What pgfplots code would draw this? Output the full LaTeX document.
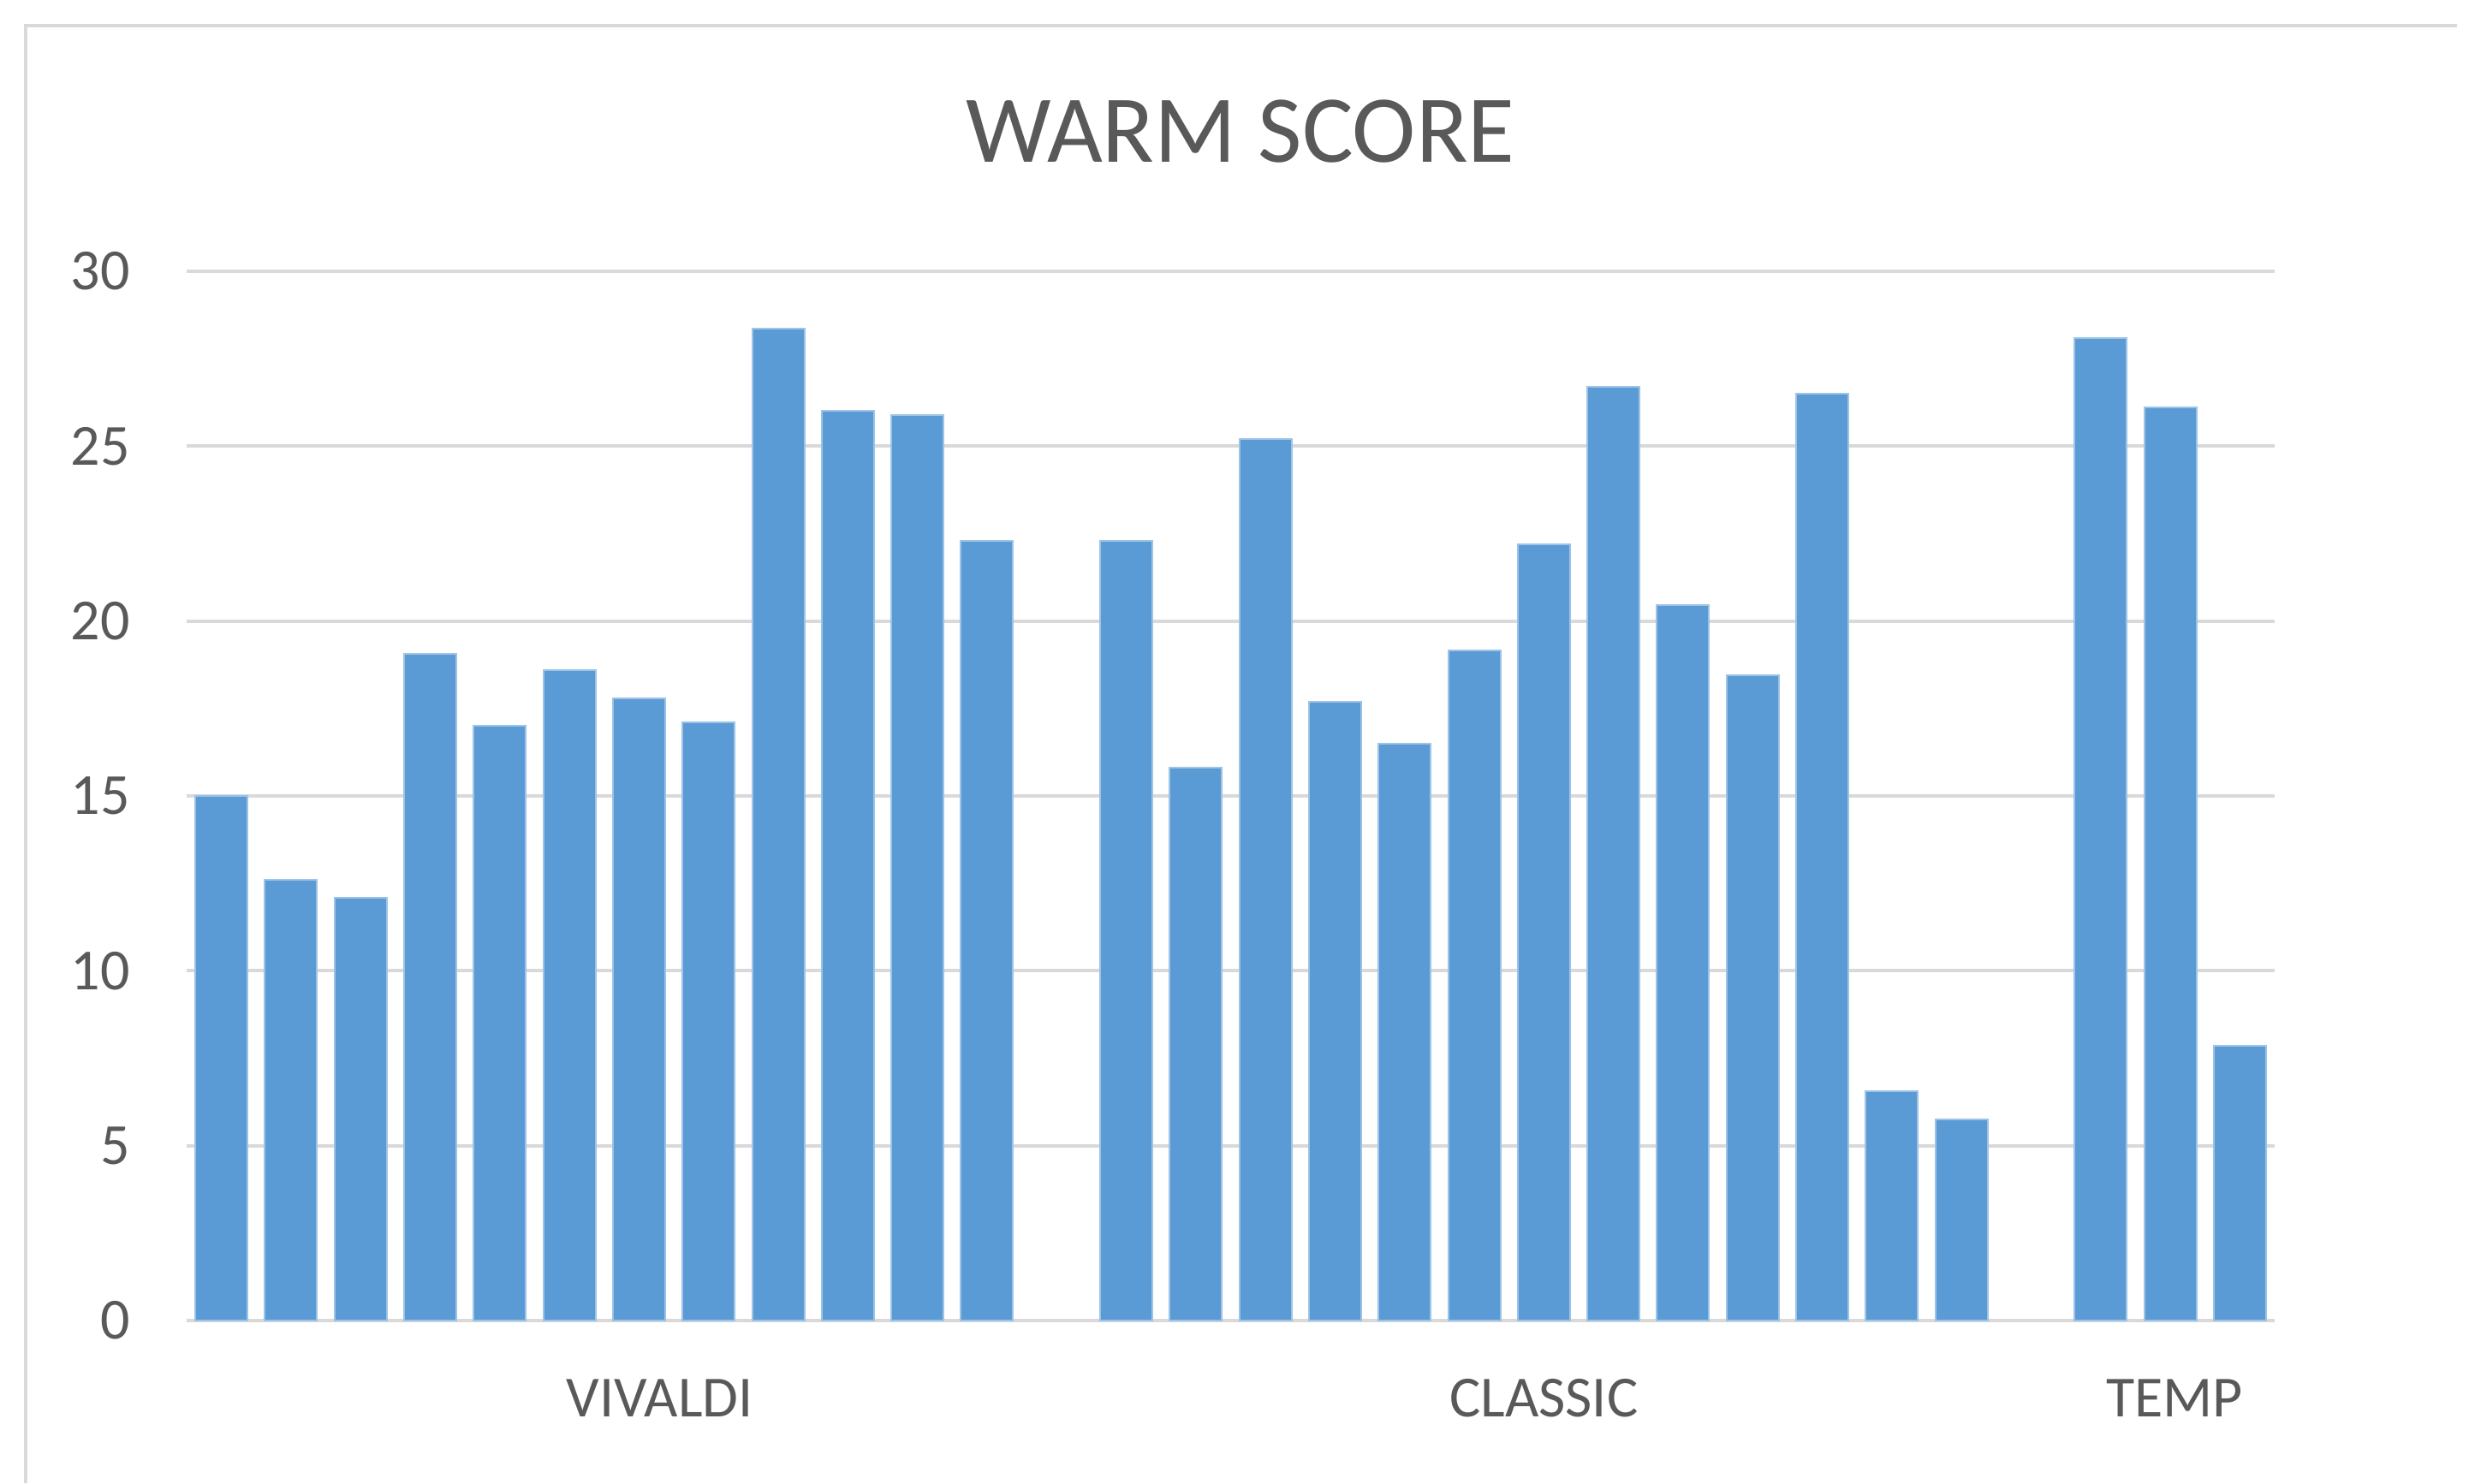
\documentclass[border=0pt]{standalone}
\usepackage{fontspec}
\setmainfont{Carlito}
\usepackage{pgfplots}
\pgfplotsset{compat=1.18}
\definecolor{BarBlue}  {RGB}{ 91,155,213}
\definecolor{BarEdge}  {RGB}{157,195,230}
\definecolor{GridGray} {RGB}{217,217,217}
\definecolor{TextGray} {RGB}{ 89, 89, 89}
\definecolor{FrameGray}{RGB}{217,217,217}

\begin{document}
\begin{tikzpicture}
\path[use as bounding box] (0pt,0pt) rectangle (724.5pt,433.25pt);
% chart frame (only top and left edges show in the crop)
\draw[FrameGray, line width=1pt] (7.5pt,0pt) -- (7.5pt,425.75pt) -- (717.5pt,425.75pt);

\node[anchor=base, text=TextGray, font=\fontsize{28}{34}\selectfont]
    at (362.25pt,385.75pt) {WARM SCORE};

\begin{axis}[
    at={(54.5pt,47.5pt)},
    anchor=south west,
    scale only axis,
    width=609.75pt,
    height=306.5pt,
    ybar,
    bar width=0.75,
    bar shift=0pt,
    xmin=-0.5, xmax=29.5,
    ymin=0, ymax=30,
    ytick={0,5,10,15,20,25,30},
    xtick={6.3,19,28.06},
    xticklabels={VIVALDI,CLASSIC,TEMP},
    major tick length=0pt,
    axis line style={draw=none},
    ymajorgrids,
    major grid style={draw=GridGray, line width=1pt},
    tick label style={text=TextGray, font=\fontsize{17}{20}\selectfont},
    /pgf/number format/assume math mode=true,
    yticklabel style={xshift=-13pt},
    xticklabel style={anchor=base, yshift=-28pt},
    clip=false,
]
\addplot[fill=BarBlue, draw=BarEdge, line width=0.5pt, bar shift=0pt] coordinates {
    (0,15.0) (1,12.6) (2,12.1) (3,19.05) (4,17.0) (5,18.6)
    (6,17.8) (7,17.1) (8,28.35) (9,26.0) (10,25.9) (11,22.3)
};
\addplot[fill=BarBlue, draw=BarEdge, line width=0.5pt, bar shift=0pt] coordinates {
    (13,22.3) (14,15.8) (15,25.2) (16,17.7) (17,16.5) (18,19.15)
    (19,22.2) (20,26.7) (21,20.45) (22,18.45) (23,26.5) (24,6.55) (25,5.75)
};
\addplot[fill=BarBlue, draw=BarEdge, line width=0.5pt, bar shift=0pt] coordinates {
    (27,28.1) (28,26.1) (29,7.85)
};
\end{axis}
\end{tikzpicture}
\end{document}
